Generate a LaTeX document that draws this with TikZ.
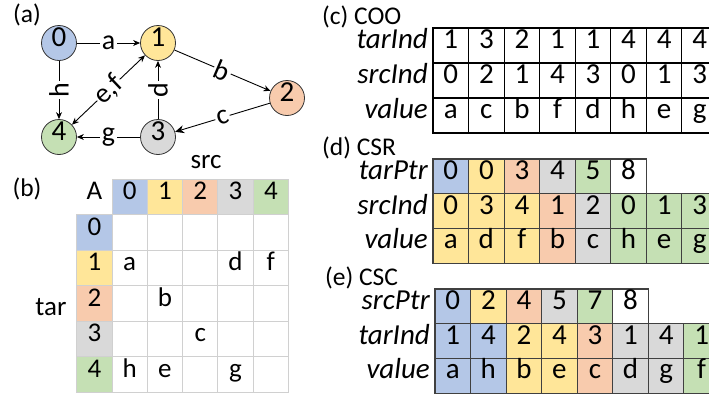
\documentclass[tikz,border=0pt]{standalone}
\usepackage{fontspec}
\setmainfont{Carlito}
\usetikzlibrary{arrows.meta}
\definecolor{cblue}{HTML}{B4C7E7}
\definecolor{cyellow}{HTML}{FFE699}
\definecolor{corange}{HTML}{F8CBAD}
\definecolor{cgray}{HTML}{D9D9D9}
\definecolor{cgreen}{HTML}{C5E0B4}
\definecolor{gridgray}{HTML}{D0D0D0}
\newcommand{\bigtxt}{\fontsize{29}{33}\selectfont}
\newcommand{\edgetxt}{\fontsize{28}{32}\selectfont}
\newcommand{\midtxt}{\fontsize{27}{31}\selectfont}
\newcommand{\captxt}{\fontsize{25.5}{29}\selectfont}
\begin{document}
\begin{tikzpicture}[x=1pt,y=-1pt,
  vtx/.style={circle,draw=black!80,line width=0.8pt,minimum size=35pt,inner sep=0pt,
    font=\bigtxt,text height=0.63em,text depth=0pt},
  edge/.style={line width=0.9pt,-{Stealth[length=7pt,width=6pt]}},
  elab/.style={fill=white,inner sep=1.5pt,font=\edgetxt},
  mcell/.style={draw=gridgray,line width=1pt,minimum width=35.3pt,minimum height=35.5pt,
    inner sep=0pt,font=\midtxt,text height=0.63em,text depth=0pt},
  tcell/.style={draw=black,line width=1.1pt,minimum width=35.55pt,minimum height=#1,
    inner sep=0pt,font=\bigtxt,text height=0.63em,text depth=0pt},
  ccell/.style={draw=black!75,line width=1.1pt,minimum width=35.55pt,minimum height=34.7pt,
    inner sep=0pt,font=\bigtxt,text height=0.63em,text depth=0pt},
  rowlab/.style={anchor=east,font=\bigtxt\itshape,text height=0.7em,text depth=0.2em,inner sep=0pt},
  panellab/.style={font=\captxt,inner sep=0pt}]
\useasboundingbox (0,0) rectangle (709,394);

% ---------- (a) graph ----------
\node[panellab] (capa) at (27,15) {(a)};
\node[vtx,fill=cblue]   (v0) at (59,43)  {0};
\node[vtx,fill=cyellow] (v1) at (158,43) {1};
\node[vtx,fill=corange] (v2) at (287,98) {2};
\node[vtx,fill=cgray]   (v3) at (158,137) {3};
\node[vtx,fill=cgreen]  (v4) at (59,137) {4};

\draw[edge] (v0) -- node[elab] {a} (v1);
\draw[edge] (v0) -- node[elab,rotate=90] {h} (v4);
\draw[edge,{Stealth[length=7pt,width=6pt]}-{Stealth[length=7pt,width=6pt]}] (v4) -- node[elab,sloped,inner sep=0.5pt] {e,f} (v1);
\draw[edge] (v3) -- node[elab,rotate=90] {d} (v1);
\draw[edge] (v1) -- node[elab,sloped] {b} (v2);
\draw[edge,-{Stealth[length=9pt,width=8pt]}] (v2) -- node[elab,sloped] {c} (v3);
\draw[edge] (v3) -- node[elab] {g} (v4);

% ---------- (b) adjacency matrix ----------
\node[panellab] (capb) at (27,189) {(b)};
\node[font=\midtxt,inner sep=0pt] (srclab) at (206,162) {src};
\node[font=\midtxt,inner sep=0pt] (tarlab) at (51,307) {tar};
\node[minimum width=35.3pt,minimum height=35.5pt,inner sep=0pt,font=\midtxt,
  text height=0.63em,text depth=0pt] (mA) at (94.35,196.75) {A};
\foreach \c [count=\i from 0] in {cblue,cyellow,corange,cgray,cgreen} {
  \node[mcell,fill=\c] (mc\i) at ({129.65+35.3*\i},196.75) {\i};
  \node[mcell,fill=\c] (mr\i) at (94.35,{232.25+35.5*\i}) {\i};
}
\foreach \r/\vals in {0/{,,,,},1/{a,,,d,f},2/{,b,,,},3/{,,c,,},4/{h,e,,g,}} {
  \foreach \v [count=\k from 0] in \vals {
    \node[mcell] (m\r-\k) at ({129.65+35.3*\k},{232.25+35.5*\r}) {\v};
  }
}

% ---------- (c) COO ----------
\node[panellab,anchor=west] (capc) at (322,17) {(c) COO};
\node[rowlab] (cooT) at (428,46)  {tarInd};
\node[rowlab] (cooS) at (428,81)  {srcInd};
\node[rowlab] (cooV) at (428,116) {value};
\begin{scope}
\clip (0,0) rectangle (709,394);
\foreach \v [count=\k from 0] in {1,3,2,1,1,4,4,4}
  \node[tcell=35pt] (coot\k) at ({450.8+35.55*\k},45.5) {\v};
\foreach \v [count=\k from 0] in {0,2,1,4,3,0,1,3}
  \node[tcell=35pt] (coos\k) at ({450.8+35.55*\k},80.5) {\v};
\foreach \v [count=\k from 0] in {a,c,b,f,d,h,e,g}
  \node[tcell=35pt] (coov\k) at ({450.8+35.55*\k},115.5) {\v};

% ---------- (d) CSR ----------
\foreach \v/\c [count=\k from 0] in {0/cblue,0/cyellow,3/corange,4/cgray,5/cgreen,8/white}
  \node[ccell,fill=\c] (csrp\k) at ({450.8+35.55*\k},176.35) {\v};
\foreach \v/\c [count=\k from 0] in {0/cyellow,3/cyellow,4/cyellow,1/corange,2/cgray,0/cgreen,1/cgreen,3/cgreen}
  \node[ccell,fill=\c] (csri\k) at ({450.8+35.55*\k},211.05) {\v};
\foreach \v/\c [count=\k from 0] in {a/cyellow,d/cyellow,f/cyellow,b/corange,c/cgray,h/cgreen,e/cgreen,g/cgreen}
  \node[ccell,fill=\c] (csrv\k) at ({450.8+35.55*\k},245.75) {\v};

% ---------- (e) CSC ----------
\foreach \v/\c [count=\k from 0] in {0/cblue,2/cyellow,4/corange,5/cgray,7/cgreen,8/white}
  \node[ccell,fill=\c] (cscp\k) at ({452.8+35.55*\k},306.35) {\v};
\foreach \v/\c [count=\k from 0] in {1/cblue,4/cblue,2/cyellow,4/cyellow,3/corange,1/cgray,4/cgray,1/cgreen}
  \node[ccell,fill=\c] (csci\k) at ({452.8+35.55*\k},341.05) {\v};
\foreach \v/\c [count=\k from 0] in {a/cblue,h/cblue,b/cyellow,e/cyellow,c/corange,d/cgray,g/cgray,f/cgreen}
  \node[ccell,fill=\c] (cscv\k) at ({452.8+35.55*\k},375.75) {\v};
\end{scope}

\node[panellab,anchor=west] (capd) at (322,148) {(d) CSR};
\node[rowlab] (csrP) at (428,177) {tarPtr};
\node[rowlab] (csrS) at (428,212) {srcInd};
\node[rowlab] (csrV) at (428,246) {value};

\node[panellab,anchor=west] (cape) at (325,278) {(e) CSC};
\node[rowlab] (cscP) at (430,307) {srcPtr};
\node[rowlab] (cscT) at (430,342) {tarInd};
\node[rowlab] (cscV) at (430,376) {value};
\end{tikzpicture}
\end{document}
